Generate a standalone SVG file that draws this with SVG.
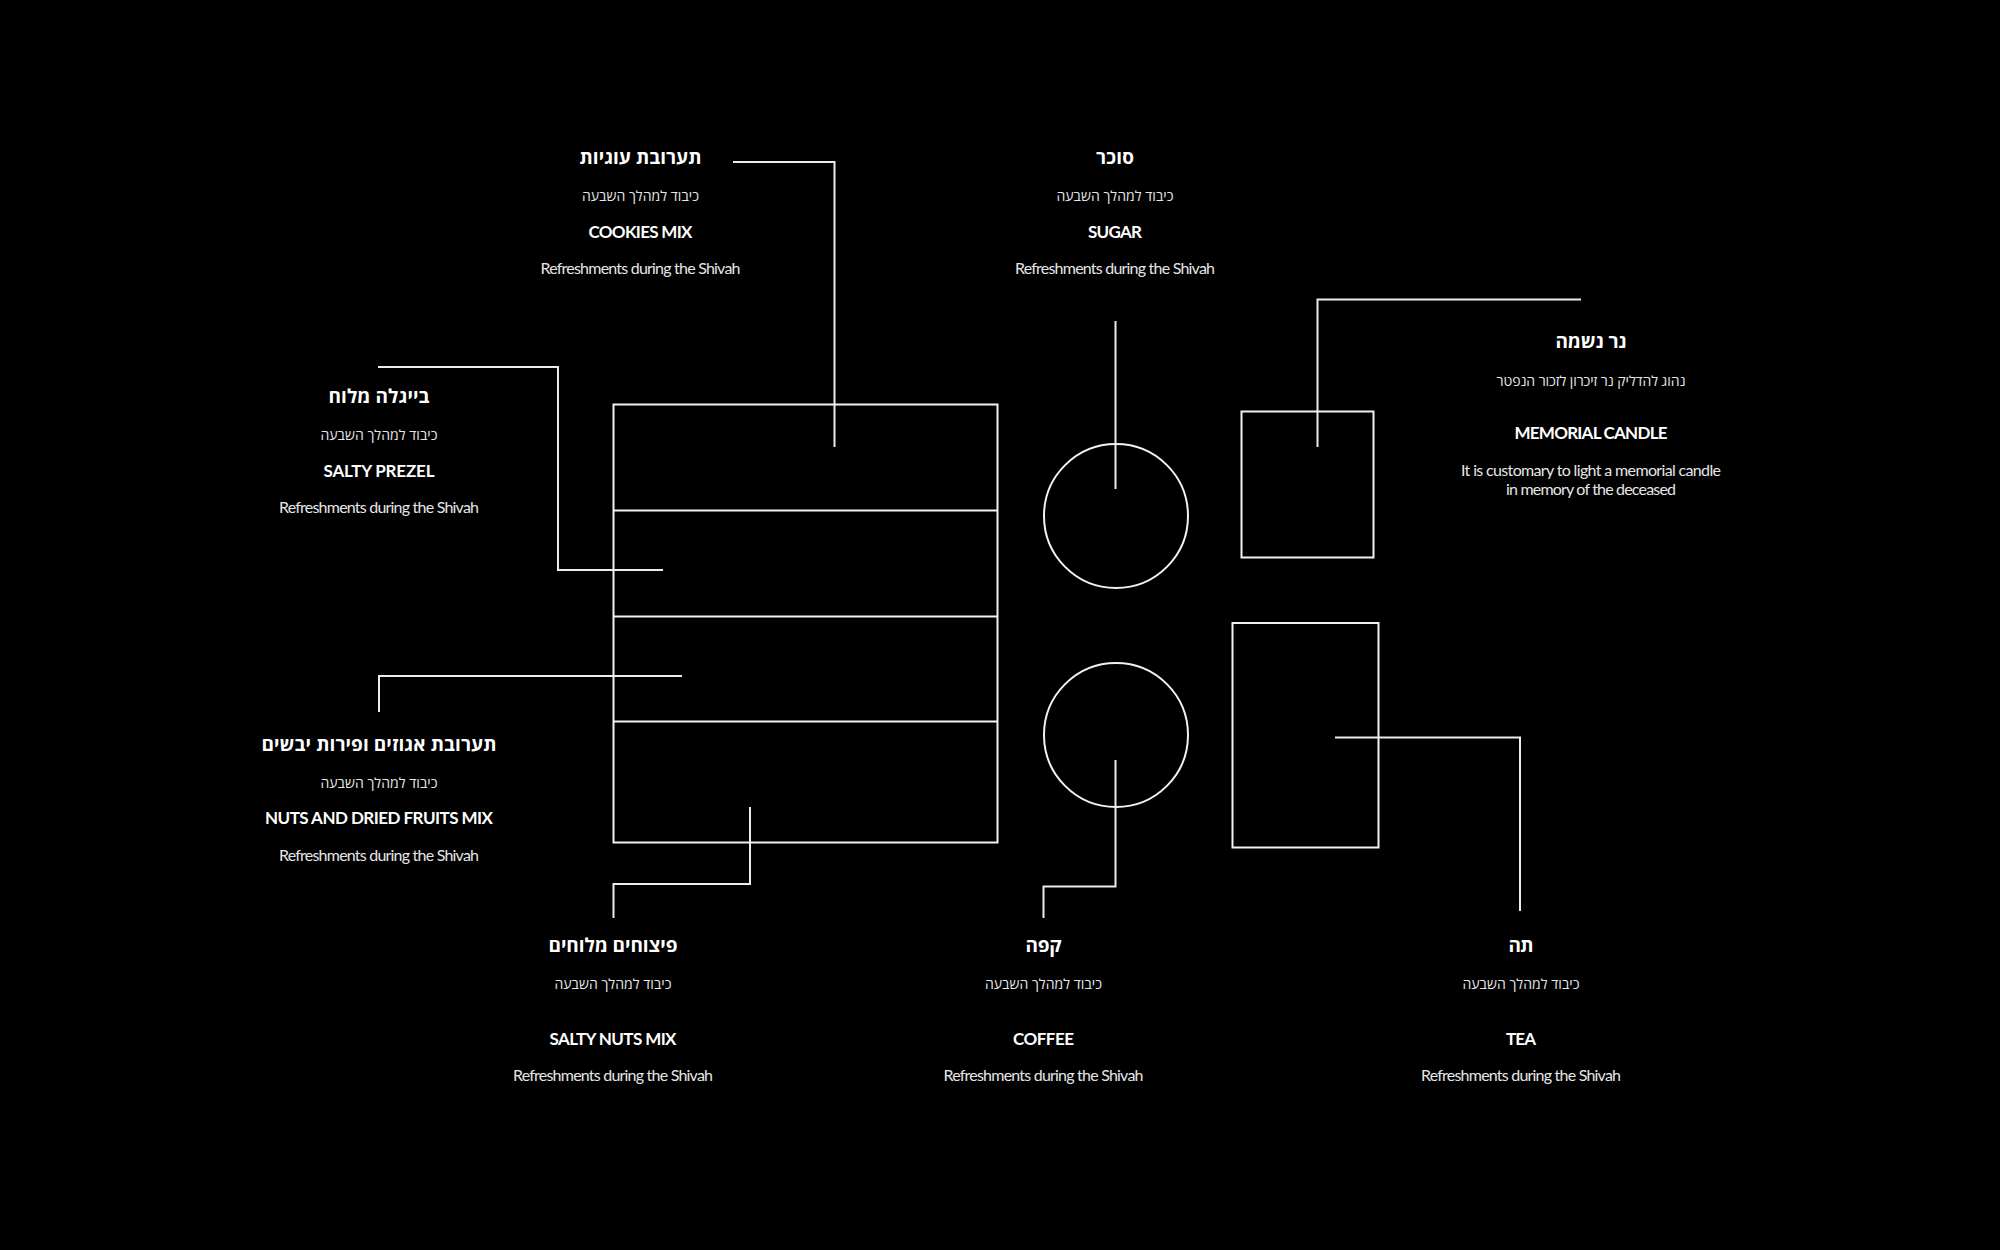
<svg xmlns="http://www.w3.org/2000/svg" width="2000" height="1250" viewBox="0 0 2000 1250">
<style>
.ln{fill:none;stroke:#ececec;stroke-width:2}
.sh{fill:none;stroke:#f2f2f2;stroke-width:2}
.ht{font-family:"Open Sans","DejaVu Sans","Noto Sans",sans-serif;font-weight:700;font-size:19px;fill:#fff;text-anchor:middle}
.hs{font-family:"Open Sans","DejaVu Sans","Noto Sans",sans-serif;font-weight:400;font-size:14px;fill:#e6e6e6;text-anchor:middle}
.et{font-family:Lato,"Noto Sans",sans-serif;font-weight:700;font-size:17px;fill:#fff;text-anchor:middle}
.ed{font-family:Lato,"Noto Sans",sans-serif;font-weight:400;font-size:16px;fill:#e6e6e6;text-anchor:middle}
</style>
<rect width="2000" height="1250" fill="#000"/>

<g id="connectors">
<path class="ln" d="M733,162 H834.5 V447"/>
<path class="ln" d="M378,367 H558 V570 H663"/>
<path class="ln" d="M379,712 V676 H682"/>
<path class="ln" d="M750,807 V884 H613.5 V918"/>
<path class="ln" d="M1115.5,321 V489"/>
<path class="ln" d="M1317.5,447 V299.5 H1581"/>
<path class="ln" d="M1115.5,760 V886.5 H1043.5 V918"/>
<path class="ln" d="M1335,737.5 H1520 V911"/>
</g>

<g id="drawers">
<rect class="sh" x="613.5" y="404.5" width="384" height="438"/>
<line class="sh" x1="613.5" y1="510.5" x2="997.5" y2="510.5"/>
<line class="sh" x1="613.5" y1="616.5" x2="997.5" y2="616.5"/>
<line class="sh" x1="613.5" y1="721.5" x2="997.5" y2="721.5"/>
</g>
<g id="sugar-shape"><circle class="sh" cx="1116" cy="516" r="72"/></g>
<g id="coffee-shape"><circle class="sh" cx="1116" cy="735" r="72"/></g>
<g id="candle-shape"><rect class="sh" x="1241.5" y="411.5" width="132" height="146"/></g>
<g id="tea-shape"><rect class="sh" x="1232.5" y="623" width="146" height="224.5"/></g>

<g id="cookies">
<text class="ht" x="640.5" y="164" textLength="122">תערובת עוגיות</text>
<text class="hs" x="640.5" y="201" textLength="117">כיבוד למהלך השבעה</text>
<text class="et" x="640.5" y="238" textLength="104">COOKIES MIX</text>
<text class="ed" x="640.5" y="274" textLength="200">Refreshments during the Shivah</text>
</g>

<g id="sugar">
<text class="ht" x="1115" y="164" textLength="38">סוכר</text>
<text class="hs" x="1115" y="201" textLength="117">כיבוד למהלך השבעה</text>
<text class="et" x="1115" y="238" textLength="54">SUGAR</text>
<text class="ed" x="1115" y="274" textLength="200">Refreshments during the Shivah</text>
</g>

<g id="candle">
<text class="ht" x="1591" y="348" textLength="71">נר נשמה</text>
<text class="hs" x="1591" y="386" textLength="189">נהוג להדליק נר זיכרון לזכור הנפטר</text>
<text class="et" x="1591" y="439" textLength="153">MEMORIAL CANDLE</text>
<text class="ed" x="1591" y="476" textLength="260">It is customary to light a memorial candle</text>
<text class="ed" x="1591" y="495" textLength="170">in memory of the deceased</text>
</g>

<g id="pretzel">
<text class="ht" x="379" y="403" textLength="101">בייגלה מלוח</text>
<text class="hs" x="379" y="440" textLength="117">כיבוד למהלך השבעה</text>
<text class="et" x="379" y="477" textLength="111">SALTY PREZEL</text>
<text class="ed" x="379" y="513" textLength="200">Refreshments during the Shivah</text>
</g>

<g id="nuts-fruits">
<text class="ht" x="379" y="751" textLength="235">תערובת אגוזים ופירות יבשים</text>
<text class="hs" x="379" y="788" textLength="117">כיבוד למהלך השבעה</text>
<text class="et" x="379" y="824" textLength="228">NUTS AND DRIED FRUITS MIX</text>
<text class="ed" x="379" y="861" textLength="200">Refreshments during the Shivah</text>
</g>

<g id="salty-nuts">
<text class="ht" x="613" y="952" textLength="129">פיצוחים מלוחים</text>
<text class="hs" x="613" y="989" textLength="117">כיבוד למהלך השבעה</text>
<text class="et" x="613" y="1045" textLength="127">SALTY NUTS MIX</text>
<text class="ed" x="613" y="1081" textLength="200">Refreshments during the Shivah</text>
</g>

<g id="coffee">
<text class="ht" x="1043.5" y="952" textLength="36">קפה</text>
<text class="hs" x="1043.5" y="989" textLength="117">כיבוד למהלך השבעה</text>
<text class="et" x="1043.5" y="1045" textLength="61">COFFEE</text>
<text class="ed" x="1043.5" y="1081" textLength="200">Refreshments during the Shivah</text>
</g>

<g id="tea">
<text class="ht" x="1521" y="952" textLength="25">תה</text>
<text class="hs" x="1521" y="989" textLength="117">כיבוד למהלך השבעה</text>
<text class="et" x="1521" y="1045" textLength="30">TEA</text>
<text class="ed" x="1521" y="1081" textLength="200">Refreshments during the Shivah</text>
</g>
</svg>
